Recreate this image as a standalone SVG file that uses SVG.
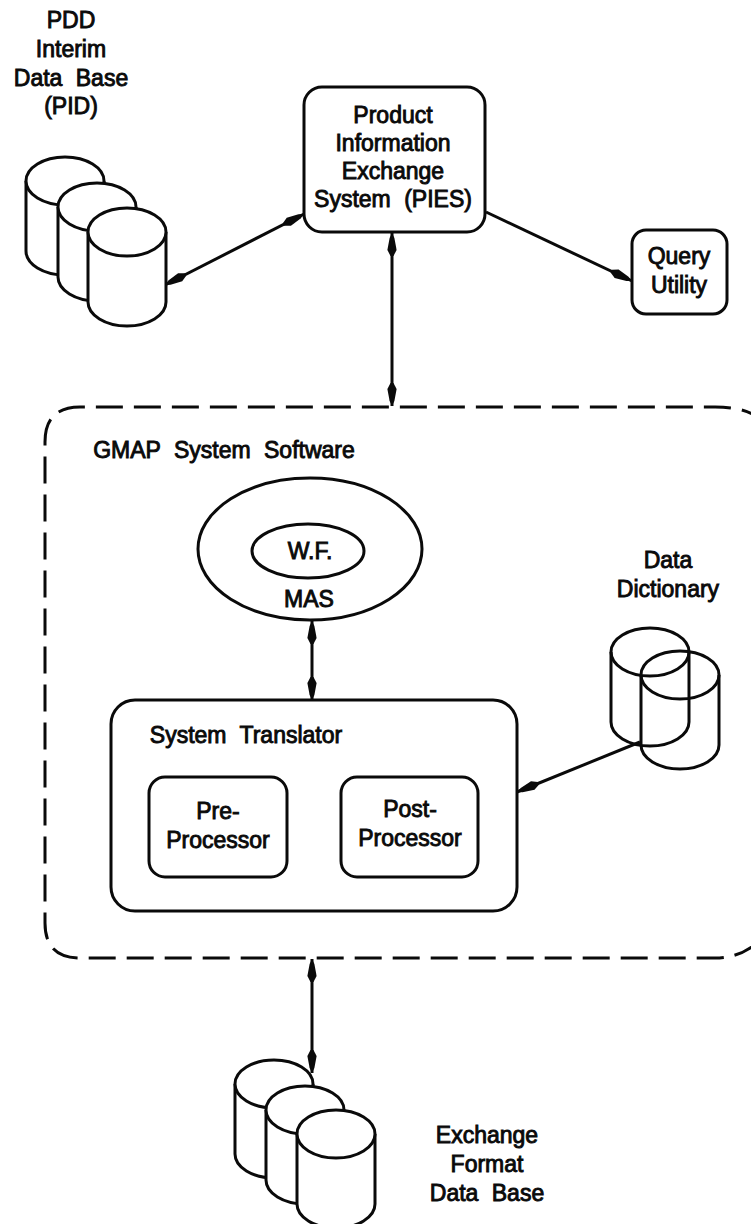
<svg xmlns="http://www.w3.org/2000/svg" width="751" height="1224" viewBox="0 0 751 1224">
<style>
.s{fill:#fff;stroke:#0a0a0a;stroke-width:3;stroke-linejoin:round}
.n{fill:none;stroke:#0a0a0a;stroke-width:3}
.c{fill:none;stroke:#0a0a0a;stroke-width:3}
.d{fill:none;stroke:#0a0a0a;stroke-width:3;stroke-dasharray:27 11}
text{font-family:"Liberation Sans",Arial,sans-serif;font-size:23px;fill:#0a0a0a;stroke:#0a0a0a;stroke-width:.9;text-anchor:middle;word-spacing:7px}
</style>
<defs>
<marker id="a" markerUnits="userSpaceOnUse" markerWidth="30" markerHeight="12" refX="26" refY="6" orient="auto-start-reverse" overflow="visible">
<path d="M26 6 L21 3.6 L9 1.4 L3 4.5 L3 7.5 L9 10.6 L21 8.4 Z" fill="#0a0a0a"/>
</marker>
<path id="cyl" d="M-39 0 V70 A39 24 0 0 0 39 70 V0"/>
<ellipse id="top" cx="0" cy="0" rx="39" ry="24"/>
</defs>
<g id="connectors">
<path class="c" d="M165 285 L304 214" marker-start="url(#a)" marker-end="url(#a)"/>
<path class="c" d="M486 212 L632 281" marker-end="url(#a)"/>
<path class="c" d="M392 233 V406" marker-start="url(#a)" marker-end="url(#a)"/>
<path class="c" d="M312 621 V700" marker-start="url(#a)" marker-end="url(#a)"/>
<path class="c" d="M640 742 L517 792" marker-end="url(#a)"/>
<path class="c" d="M312 959 V1073" marker-start="url(#a)" marker-end="url(#a)"/>
</g>
<g id="pid-db">
<g transform="translate(65 181)"><use href="#cyl" class="s"/><use href="#top" class="s"/></g>
<g transform="translate(97 207)"><use href="#cyl" class="s"/><use href="#top" class="s"/></g>
<g transform="translate(127 232)"><use href="#cyl" class="s"/><use href="#top" class="s"/></g>
<text x="71" y="28">PDD</text><text x="71" y="57">Interim</text><text x="71" y="86">Data Base</text><text x="71" y="114">(PID)</text>
</g>
<g id="pies">
<rect class="s" x="304" y="87" width="181" height="145" rx="18"/>
<text x="393" y="123">Product</text><text x="393" y="151">Information</text><text x="393" y="179">Exchange</text><text x="393" y="207">System (PIES)</text>
</g>
<g id="query">
<rect class="s" x="632" y="230" width="95" height="84" rx="14"/>
<text x="679" y="264">Query</text><text x="679" y="293">Utility</text>
</g>
<g id="gmap">
<path class="d" d="M765 423 Q750 407 715 407 H80 Q45 407 45 442 V923 Q45 958 80 958 H715 Q745 958 765 935"/>
<text x="224" y="458">GMAP System Software</text>
</g>
<g id="mas">
<ellipse class="s" cx="310" cy="549" rx="112" ry="71"/>
<ellipse class="s" cx="308" cy="551" rx="56" ry="27"/>
<text x="310" y="559">W.F.</text><text x="309" y="607">MAS</text>
</g>
<g id="translator">
<rect class="s" x="111" y="700" width="406" height="211" rx="24"/>
<text x="246" y="743">System Translator</text>
</g>
<g id="pre">
<rect class="s" x="149" y="777" width="138" height="100" rx="16"/>
<text x="218" y="819">Pre-</text><text x="218" y="848">Processor</text>
</g>
<g id="post">
<rect class="s" x="341" y="777" width="137" height="100" rx="16"/>
<text x="410" y="817">Post-</text><text x="410" y="846">Processor</text>
</g>
<g id="dictionary">
<g transform="translate(650 652)"><use href="#cyl" class="n"/><use href="#top" class="n"/></g>
<g transform="translate(680 675)"><use href="#cyl" class="n"/><use href="#top" class="n"/></g>
<text x="668" y="568">Data</text><text x="668" y="597">Dictionary</text>
</g>
<g id="exchange-db">
<g transform="translate(274 1084)"><use href="#cyl" class="s"/><use href="#top" class="s"/></g>
<g transform="translate(305 1110)"><use href="#cyl" class="s"/><use href="#top" class="s"/></g>
<g transform="translate(336 1134)"><use href="#cyl" class="s"/><use href="#top" class="s"/></g>
<text x="487" y="1143">Exchange</text><text x="487" y="1172">Format</text><text x="487" y="1201">Data Base</text>
</g>
</svg>
